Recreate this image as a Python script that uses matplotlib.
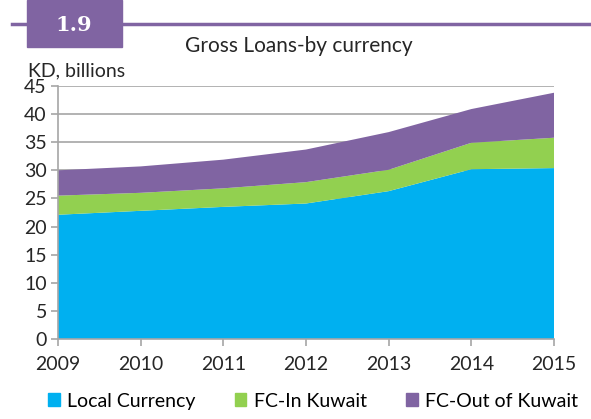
import matplotlib.pyplot as plt
import matplotlib.patches as mpatches
import numpy as np

years = [2009, 2010, 2011, 2012, 2013, 2014, 2015]
local_currency = [22.1, 22.8, 23.5, 24.1, 26.3, 30.2, 30.4]
fc_in_kuwait = [3.4, 3.2, 3.3, 3.8, 3.8, 4.7, 5.4]
fc_out_kuwait = [4.5, 4.7, 5.1, 5.8, 6.7, 6.0, 8.0]
series_names = ['Local Currency', 'FC-In Kuwait', 'FC-Out of Kuwait']
colors = ['#00B0F0', '#92D050', '#8064A2']

plt.rcParams['font.family'] = ['Lato', 'DejaVu Sans']

W, H = 591, 419
fig = plt.figure(figsize=(W / 100, H / 100), dpi=100)
ax = fig.add_axes([58 / W, (H - 339) / H, (554 - 58) / W, (339 - 86) / H])

ax.stackplot(years, local_currency, fc_in_kuwait, fc_out_kuwait,
             colors=colors, zorder=2)

ax.set_xlim(2009, 2015)
ax.set_ylim(0, 45)
ax.set_yticks(np.arange(0, 46, 5))
ax.set_xticks(years)
ax.yaxis.grid(True, color='#a6a6a6', linewidth=1.2, zorder=0)
ax.set_axisbelow(True)
for s in ['top', 'right']:
    ax.spines[s].set_visible(False)
for s in ['left', 'bottom']:
    ax.spines[s].set_color('#a6a6a6')
    ax.spines[s].set_linewidth(1.2)
ax.tick_params(axis='both', colors='#a6a6a6', labelcolor='#262626',
               labelsize=14, length=5, width=1.2)
ax.tick_params(axis='x', pad=7)
ax.tick_params(axis='y', pad=3)

# header
fig.add_artist(plt.Line2D([12 / W, 1], [1 - 24 / H, 1 - 24 / H],
                          color='#8064A2', linewidth=2.5))
fig.add_artist(mpatches.Rectangle((27 / W, 1 - 47 / H), 95 / W, 47 / H,
                                  color='#8064A2', transform=fig.transFigure))
fig.text(74 / W, 1 - 25 / H, '1.9', color='white', fontsize=15,
         fontweight='bold', family='DejaVu Serif', ha='center', va='center')
fig.text(299 / W, 1 - 46 / H, 'Gross Loans-by currency', fontsize=15,
         color='#262626', ha='center', va='center')
fig.text(28 / W, 1 - 71 / H, 'KD, billions', fontsize=14,
         color='#262626', ha='left', va='center')

handles = [mpatches.Patch(color=c, label=n) for c, n in zip(colors, series_names)]
fig.legend(handles=handles, loc='center', bbox_to_anchor=(0.53, 1 - 401 / H),
           ncol=3, frameon=False, fontsize=14, handlelength=0.6,
           handleheight=0.6, handletextpad=0.4, columnspacing=2.0)

fig.savefig('out.png', dpi=100)
